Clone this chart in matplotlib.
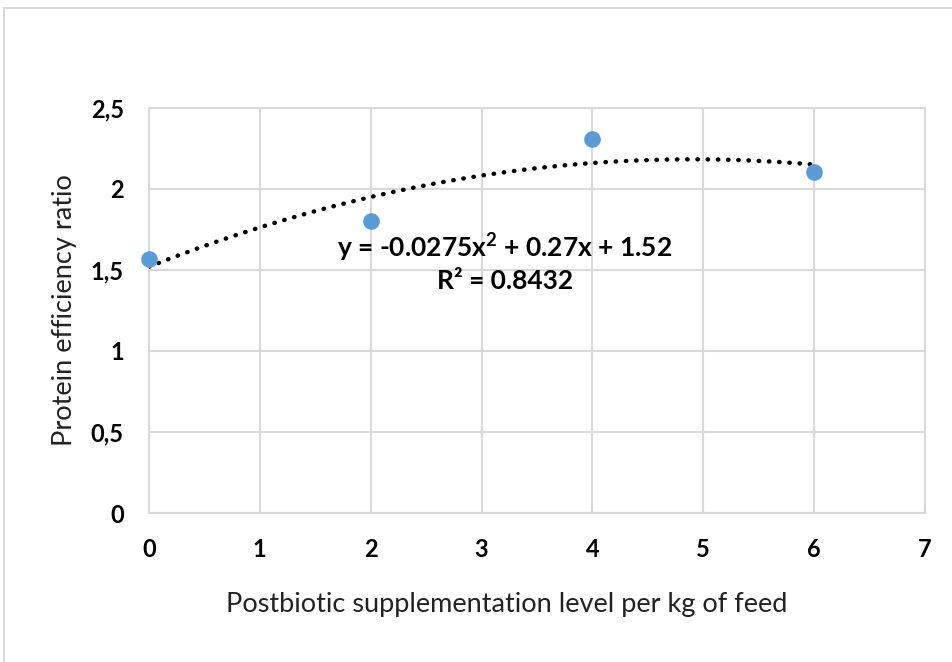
import matplotlib.pyplot as plt
import numpy as np

# data
levels = [0, 2, 4, 6]
per = [1.57, 1.805, 2.31, 2.105]
# trendline coefficients as printed on the chart (a, b, c)
coef = [-0.0275, 0.27, 1.52]
r2 = 0.8432

yticks = [0, 0.5, 1, 1.5, 2, 2.5]
ylabels = ["0", "0,5", "1", "1,5", "2", "2,5"]
xticks = [0, 1, 2, 3, 4, 5, 6, 7]

plt.rcParams['font.family'] = ['Lato', 'DejaVu Sans']
plt.rcParams['mathtext.fontset'] = 'custom'
plt.rcParams['mathtext.rm'] = 'Lato'
plt.rcParams['mathtext.bf'] = 'Lato:bold'

fig = plt.figure(figsize=(9.52, 6.62), dpi=100)
ax = fig.add_axes([0.1565, 0.225, 0.815, 0.612])

# outer chart frame like the excel chart area
fig.patches.append(plt.Rectangle((0.004, -0.01), 1.1, 0.998, transform=fig.transFigure,
                                 fill=False, edgecolor='#d9d9d9', linewidth=1.5))

grid_c = '#d9d9d9'
ax.set_xlim(0, 7)
ax.set_ylim(0, 2.5)
ax.set_xticks(xticks)
ax.set_yticks(yticks)
ax.set_yticklabels(ylabels)
ax.grid(True, color=grid_c, linewidth=1.5)
ax.set_axisbelow(True)
for s in ax.spines.values():
    s.set_color(grid_c)
    s.set_linewidth(1.5)
ax.tick_params(length=0, labelsize=17, pad=18)
for lab in ax.get_xticklabels() + ax.get_yticklabels():
    lab.set_fontweight('bold')

# trendline
xs = np.linspace(0, 6, 200)
ys = np.polyval(coef, xs)
ax.plot(xs, ys, color='black', linestyle=(0, (0.1, 2.2)), linewidth=3.2,
        dash_capstyle='round', zorder=3)

ax.scatter(levels, per, s=120, color='#5b9bd5', zorder=4, clip_on=False)

ax.text(3.21, 1.64, "y = -0.0275x$\\mathbf{^{2}}$ + 0.27x + 1.52", ha='center', va='center',
        fontsize=19, fontweight='bold')
ax.text(3.21, 1.43, "R² = 0.8432", ha='center', va='center',
        fontsize=19, fontweight='bold')

ax.set_xlabel("Postbiotic supplementation level per kg of feed", fontsize=19.5,
              labelpad=22, color='#222222')
ax.xaxis.label.set_x(0.461)
ax.set_ylabel("Protein efficiency ratio", fontsize=19.5, labelpad=10, color='#222222')

fig.savefig("out.png", dpi=100)
